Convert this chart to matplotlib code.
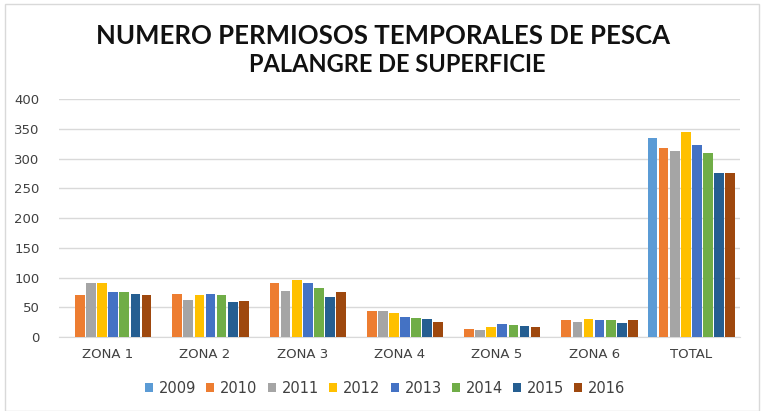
import matplotlib.pyplot as plt
import matplotlib.patches as mpatches
import numpy as np

# datos
zonas = ["ZONA 1", "ZONA 2", "ZONA 3", "ZONA 4", "ZONA 5", "ZONA 6", "TOTAL"]
anios = ["2009", "2010", "2011", "2012", "2013", "2014", "2015", "2016"]

v2009 = [0, 0, 0, 0, 0, 0, 335]
v2010 = [71, 73, 90, 43, 14, 29, 317]
v2011 = [91, 63, 78, 43, 12, 26, 313]
v2012 = [90, 71, 96, 41, 17, 31, 345]
v2013 = [75, 73, 90, 34, 22, 29, 323]
v2014 = [75, 71, 83, 32, 21, 29, 310]
v2015 = [73, 59, 68, 31, 19, 24, 276]
v2016 = [71, 61, 75, 26, 17, 29, 276]
series = [v2009, v2010, v2011, v2012, v2013, v2014, v2015, v2016]

colores = ["#5B9BD5", "#ED7D31", "#A5A5A5", "#FFC000",
           "#4472C4", "#70AD47", "#255E91", "#9E480E"]

fig = plt.figure(figsize=(7.62, 4.11), dpi=100)
ax = fig.add_axes([59 / 762, 1 - 337 / 411, (740 - 59) / 762, (337 - 99) / 411])

x = np.arange(len(zonas))
paso = 0.114
ancho = 0.10
for k, (vals, c) in enumerate(zip(series, colores)):
    ax.bar(x + (k - 3.5) * paso, vals, width=ancho, color=c, label=anios[k], zorder=3)

ax.set_xlim(-0.5, len(zonas) - 0.5)
ax.set_ylim(0, 400)
ax.set_yticks(range(0, 401, 50))
ax.set_xticks(x)
ax.set_xticklabels(zonas)
ax.grid(axis="y", color="#D9D9D9", linewidth=1, zorder=0)
for s in ["top", "right", "left"]:
    ax.spines[s].set_visible(False)
ax.spines["bottom"].set_color("#D9D9D9")
ax.tick_params(length=0, labelsize=9.5, colors="#404040")
ax.tick_params(axis="y", pad=14)
ax.tick_params(axis="x", pad=8)

fig.text(0.503, 1 - 36 / 411, "NUMERO PERMIOSOS TEMPORALES DE PESCA", ha="center",
         va="center", fontsize=18.5, fontweight="bold", family="Lato", color="#111111")
fig.text(0.521, 1 - 64 / 411, "PALANGRE DE SUPERFICIE", ha="center",
         va="center", fontsize=17, fontweight="bold", family="Lato", color="#111111")

ax.legend(loc="center", bbox_to_anchor=(0.479, (337 - 388) / (337 - 99)), ncol=8,
          frameon=False, fontsize=10.5, handlelength=0.55, handleheight=0.55,
          columnspacing=0.7, handletextpad=0.4, labelcolor="#404040")

fig.patches.append(mpatches.Rectangle((5 / 762, 0), 754 / 762, 1 - 4 / 411,
                                      transform=fig.transFigure, fill=False,
                                      edgecolor="#D9D9D9", linewidth=1))

fig.savefig("out.png", dpi=100)
